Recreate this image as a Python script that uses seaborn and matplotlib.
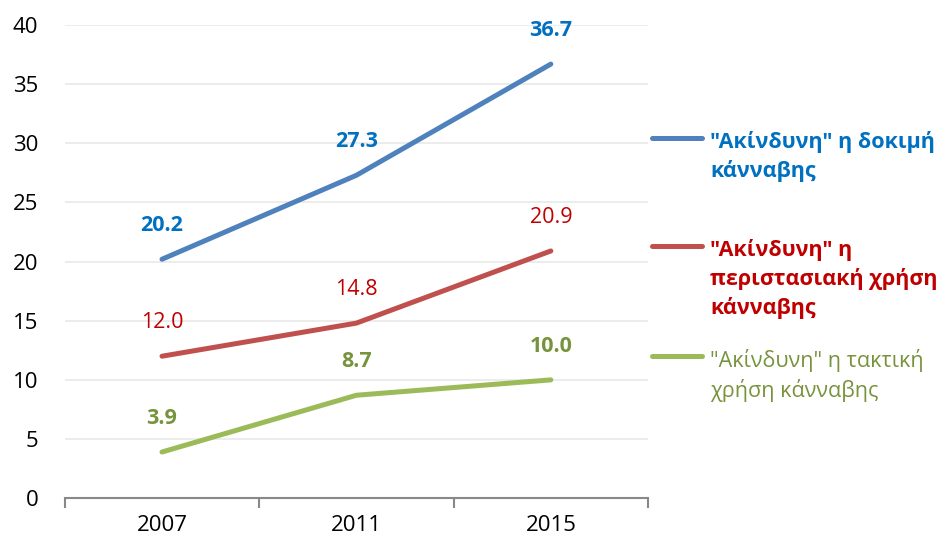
import numpy as np
import pandas as pd
import seaborn as sns
import matplotlib.pyplot as plt
from matplotlib.lines import Line2D

# data
years = ['2007', '2011', '2015']
trial = [20.2, 27.3, 36.7]
occasional = [12.0, 14.8, 20.9]
regular = [3.9, 8.7, 10.0]
series_names = ['"Ακίνδυνη" η δοκιμή\nκάνναβης',
                '"Ακίνδυνη" η\nπεριστασιακή χρήση\nκάνναβης',
                '"Ακίνδυνη" η τακτική\nχρήση κάνναβης']

line_colors = ['#4F81BD', '#C0504D', '#9BBB59']
text_colors = ['#0070C0', '#C00000', '#77933C']
label_weights = ['bold', 'normal', 'bold']
legend_weights = ['bold', 'bold', 'normal']

df = pd.DataFrame({
    'year': years * 3,
    'value': trial + occasional + regular,
    'series': [series_names[0]] * 3 + [series_names[1]] * 3 + [series_names[2]] * 3,
})

sns.set_theme(style='white')
plt.rcParams['font.family'] = ['Open Sans', 'DejaVu Sans']

fig = plt.figure(figsize=(9.53, 5.45), dpi=100)
ax = fig.add_axes([0.068, 0.086, 0.612, 0.868])

sns.lineplot(data=df, x='year', y='value', hue='series', palette=line_colors,
             linewidth=3.6, legend=False, ax=ax, sort=False)
for ln in ax.get_lines():
    ln.set_solid_capstyle('round')

# data labels
for vals, c, w in zip([trial, occasional, regular], text_colors, label_weights):
    for i, v in enumerate(vals):
        ax.annotate(f'{v:.1f}', (i, v), xytext=(0, 24), textcoords='offset points',
                    ha='center', va='center', color=c, fontsize=15.5, fontweight=w)

ax.set_ylim(0, 40)
ax.set_xlim(-0.5, 2.5)
ax.set_yticks(np.arange(0, 41, 5))
ax.set_xticks([0, 1, 2])
ax.set_xticks([-0.5, 0.5, 1.5, 2.5], minor=True)
ax.tick_params(axis='x', which='both', bottom=True)
ax.tick_params(axis='x', which='major', length=0, pad=12, labelsize=16, colors='black')
ax.tick_params(axis='x', which='minor', length=7, width=1.5, color='#888888', direction='out')
ax.tick_params(axis='y', length=0, pad=19, labelsize=16, colors='black')
ax.set_xlabel('')
ax.set_ylabel('')
ax.grid(axis='y', color='#EBEBEB', linewidth=1.3)
ax.set_axisbelow(True)
for s in ['left', 'right', 'top']:
    ax.spines[s].set_visible(False)
ax.spines['bottom'].set_color('#888888')
ax.spines['bottom'].set_linewidth(1.5)

# legend on the right, drawn by hand to match layout
legend_y = [0.747, 0.549, 0.347]
for name, lc, tc, w, y in zip(series_names, line_colors, text_colors, legend_weights, legend_y):
    fig.add_artist(Line2D([0.684, 0.737], [y, y], color=lc, linewidth=3.6,
                          solid_capstyle='round', transform=fig.transFigure))
    fig.text(0.745, y + 0.013, name, color=tc, fontsize=15.5, fontweight=w,
             va='top', ha='left', linespacing=1.42)

fig.savefig('out.png', dpi=100)
